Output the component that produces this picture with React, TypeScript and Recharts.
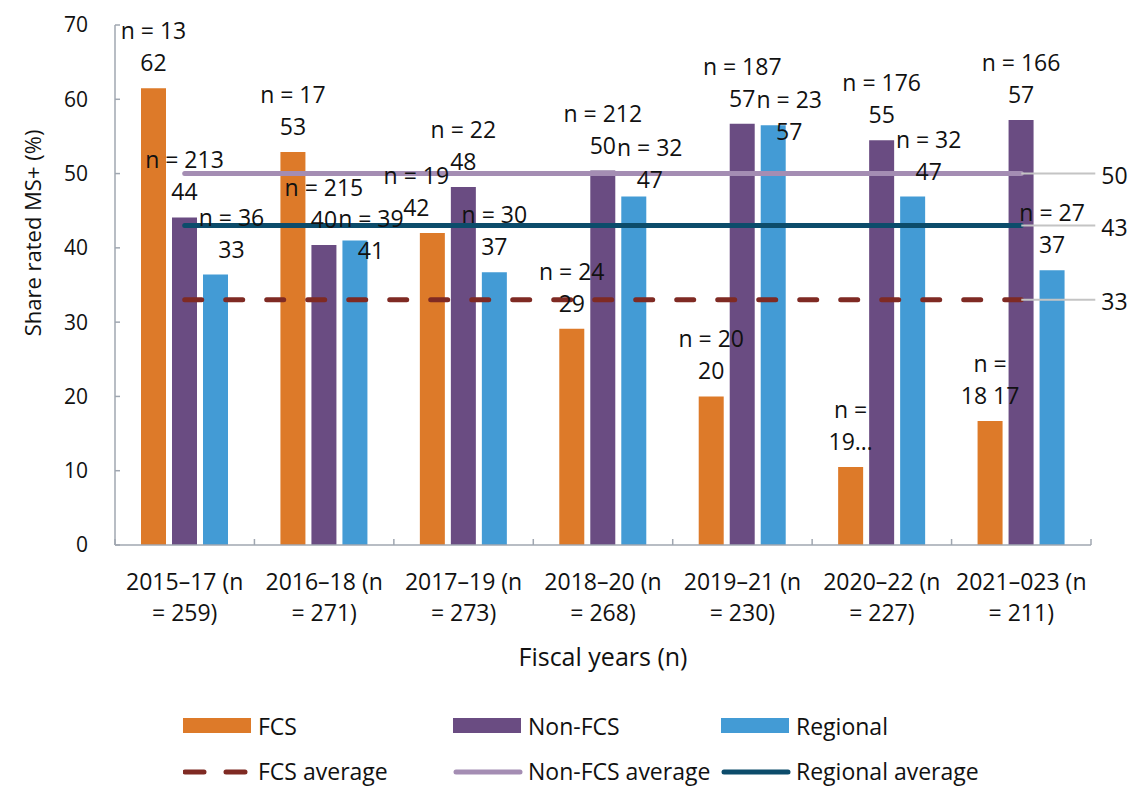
import React from "react";
import { ComposedChart, Bar, Line, XAxis, YAxis, Legend, LabelList } from "recharts";

const categories = [
  "2015–17 (n = 259)",
  "2016–18 (n = 271)",
  "2017–19 (n = 273)",
  "2018–20 (n = 268)",
  "2019–21 (n = 230)",
  "2020–22 (n = 227)",
  "2021–023 (n = 211)",
];
const fcs = [61.5, 52.9, 42.0, 29.1, 20.0, 10.5, 16.7];
const nonFcs = [44.1, 40.4, 48.2, 50.4, 56.7, 54.5, 57.2];
const regional = [36.4, 41.0, 36.7, 46.9, 56.5, 46.9, 37.0];
const fcsAvg = [33, 33, 33, 33, 33, 33, 33];
const nonFcsAvg = [50, 50, 50, 50, 50, 50, 50];
const regionalAvg = [43, 43, 43, 43, 43, 43, 43];

const fcsTop = ["n = 13", "n = 17", "n = 19", "n = 24", "n = 20", "n =", "n ="];
const fcsBottom = ["62", "53", "42", "29", "20", "19…", "18 17"];
const nonFcsTop = ["n = 213", "n = 215", "n = 22", "n = 212", "n = 187", "n = 176", "n = 166"];
const nonFcsBottom = ["44", "40", "48", "50", "57", "55", "57"];
const regionalTop = ["n = 36", "n = 39", "n = 30", "n = 32", "n = 23", "n = 32", "n = 27"];
const regionalBottom = ["33", "41", "37", "47", "57", "47", "37"];
const yTicks = [0, 10, 20, 30, 40, 50, 60, 70];

const data = categories.map((name, i) => ({
  name,
  fcs: fcs[i],
  nonFcs: nonFcs[i],
  regional: regional[i],
  fcsAvg: fcsAvg[i],
  nonFcsAvg: nonFcsAvg[i],
  regionalAvg: regionalAvg[i],
}));

const FONT = "'Open Sans', 'Noto Sans', sans-serif";
const ORANGE = "#dd7a29";
const PURPLE = "#6a4c82";
const BLUE = "#439bd5";
const DARKRED = "#7f2a23";
const LILAC = "#a48db3";
const TEAL = "#0c4c6b";
const AXIS = "#a0a7b1";
const LABEL_FS = 23;
const BAR_SIZE = 25;
const BAR_GAP = 6;

// label sets, in series order (FCS, Non-FCS, Regional)
const series = [
  { values: fcs, top: fcsTop, bottom: fcsBottom },
  { values: nonFcs, top: nonFcsTop, bottom: nonFcsBottom },
  { values: regional, top: regionalTop, bottom: regionalBottom },
];

type Box = { x0: number; x1: number; y0: number; y1: number };
const textWidth = (s: string) =>
  s.split("").reduce((w, ch) => w + (ch === " " ? 0.26 : ch === "…" ? 0.83 : 0.58), 0) * LABEL_FS;
const textBox = (s: string, cx: number, cy: number): Box => {
  const half = textWidth(s) / 2;
  return { x0: cx - half, x1: cx + half, y0: cy - 15.5, y1: cy + 15.5 };
};
const hits = (a: Box, b: Box) => a.x0 < b.x1 && b.x0 < a.x1 && a.y0 < b.y1 && b.y0 < a.y1;

// nudge a label sideways or down when it would sit on a neighbouring label
const labelShifts = (i: number, base: number, ppu: number) => {
  const placed: Box[] = [];
  const shifts = [
    { dx: 0, dy: 0 },
    { dx: 0, dy: 0 },
    { dx: 0, dy: 0 },
  ];
  for (const s of [1, 0, 2]) {
    const cx = (s - 1) * (BAR_SIZE + BAR_GAP);
    const top = base - series[s].values[i] * ppu;
    const side = s === 0 ? -16 : s === 2 ? 16 : 0;
    let found: { dx: number; dy: number; boxes: Box[] } | null = null;
    for (let dy = 0; dy < 140 && !found; dy += 4) {
      for (const dx of side ? [0, side] : [0]) {
        const boxes = [
          textBox(series[s].top[i], cx + dx, top - 58 + dy),
          textBox(series[s].bottom[i], cx + dx, top - 26 + dy),
        ];
        if (!boxes.some((b) => placed.some((p) => hits(b, p)))) {
          found = { dx, dy, boxes };
          break;
        }
      }
    }
    if (found) {
      placed.push(...found.boxes);
      shifts[s] = { dx: found.dx, dy: found.dy };
    }
  }
  return shifts;
};

const barLabel = (s: number) => (props: any) => {
  const { x, y, width, height, index, value } = props;
  const cx = Number(x) + Number(width) / 2;
  const ty = Number(y);
  const ppu = Number(height) / Number(value);
  const { dx, dy } = labelShifts(index, ty + Number(height), ppu)[s];
  return (
    <g>
      <text x={cx + dx} y={ty - 58 + dy} textAnchor="middle" dominantBaseline="central" fontFamily={FONT} fontSize={LABEL_FS} fill="#111">
        {series[s].top[index]}
      </text>
      <text x={cx + dx} y={ty - 26 + dy} textAnchor="middle" dominantBaseline="central" fontFamily={FONT} fontSize={LABEL_FS} fill="#111">
        {series[s].bottom[index]}
      </text>
    </g>
  );
};

const endLabel = (text: number[]) => (props: any) => {
  const { x, y, index } = props;
  if (index !== text.length - 1) return null;
  return (
    <g>
      <line x1={x} y1={y} x2={x + 74} y2={y} stroke="#c4c4c4" strokeWidth={2} />
      <text x={x + 80} y={y + 1} dominantBaseline="central" fontFamily={FONT} fontSize={LABEL_FS} fill="#111">
        {text[index]}
      </text>
    </g>
  );
};

const CategoryTick = (props: any) => {
  const { x, y, payload, width, visibleTicksCount, index } = props;
  const band = (width || 976) / (visibleTicksCount || categories.length);
  const label: string = payload.value;
  const cut = label.indexOf(" = ");
  const first = label.slice(0, cut);
  const second = label.slice(cut + 1);
  return (
    <g>
      <line x1={x - band / 2} x2={x - band / 2} y1={y} y2={y - 6} stroke={AXIS} strokeWidth={1.5} />
      {index === categories.length - 1 && (
        <line x1={x + band / 2} x2={x + band / 2} y1={y} y2={y - 6} stroke={AXIS} strokeWidth={1.5} />
      )}
      <text x={x} textAnchor="middle" fontFamily={FONT} fontSize={23} fill="#111">
        <tspan x={x} y={y + 45}>{first}</tspan>
        <tspan x={x} y={y + 76}>{second}</tspan>
      </text>
    </g>
  );
};

const legendItems = [
  { name: "FCS", kind: "bar", color: ORANGE, col: 0, row: 0 },
  { name: "Non-FCS", kind: "bar", color: PURPLE, col: 1, row: 0 },
  { name: "Regional", kind: "bar", color: BLUE, col: 2, row: 0 },
  { name: "FCS average", kind: "dash", color: DARKRED, col: 0, row: 1 },
  { name: "Non-FCS average", kind: "line", color: LILAC, col: 1, row: 1 },
  { name: "Regional average", kind: "line", color: TEAL, col: 2, row: 1 },
];
const legendCols = [183, 453, 721];

const renderLegend = () => (
  <div style={{ position: "relative", width: 1133, height: 86, fontFamily: FONT, fontSize: 23, color: "#111" }}>
    {legendItems.map((it) => {
      const left = legendCols[it.col];
      const cy = it.row === 0 ? 26 : 71;
      return (
        <div key={it.name}>
          <svg style={{ position: "absolute", left, top: cy - 10 }} width={70} height={20}>
            {it.kind === "bar" && <rect x={0} y={2} width={68} height={15} fill={it.color} />}
            {it.kind === "line" && (
              <line x1={3} x2={67} y1={11} y2={11} stroke={it.color} strokeWidth={5} strokeLinecap="round" />
            )}
            {it.kind === "dash" && (
              <line x1={2} x2={66} y1={11} y2={11} stroke={it.color} strokeWidth={5} strokeLinecap="round" strokeDasharray="19 22" />
            )}
          </svg>
          <span style={{ position: "absolute", left: left + 75, top: cy - 16, lineHeight: "32px", whiteSpace: "nowrap" }}>
            {it.name}
          </span>
        </div>
      );
    })}
  </div>
);

export default function App() {
  return (
    <div style={{ position: "absolute", left: 0, top: 0, width: 1133, height: 786, background: "#fff" }}>
      <ComposedChart
        width={1133}
        height={786}
        data={data}
        margin={{ top: 25, right: 42, bottom: 181, left: 0 }}
        barSize={BAR_SIZE}
        barGap={BAR_GAP}
      >
        <XAxis
          dataKey="name"
          height={60}
          stroke={AXIS}
          strokeWidth={1.5}
          tickLine={false}
          tickSize={0}
          tickMargin={0}
          interval={0}
          tick={<CategoryTick />}
          label={(p: any) => {
            const vb = p.viewBox || {};
            return (
              <text
                x={vb.x + vb.width / 2}
                y={vb.y + 111}
                textAnchor="middle"
                dominantBaseline="central"
                fontFamily={FONT}
                fontSize={25}
                fill="#111"
              >
                Fiscal years (n)
              </text>
            );
          }}
        />
        <YAxis
          width={115}
          domain={[0, 70]}
          ticks={yTicks}
          interval={0}
          stroke={AXIS}
          strokeWidth={1.5}
          tickSize={-5}
          tickMargin={32}
          tick={{ fontFamily: FONT, fontSize: 21, fill: "#111" }}
          label={(p: any) => {
            const vb = p.viewBox || {};
            const cx = 32;
            const cy = vb.y + vb.height * 0.4;
            return (
              <text
                x={cx}
                y={cy}
                transform={`rotate(-90 ${cx} ${cy})`}
                textAnchor="middle"
                dominantBaseline="central"
                fontFamily={FONT}
                fontSize={22}
                fill="#111"
              >
                Share rated MS+ (%)
              </text>
            );
          }}
        />
        <Bar dataKey="fcs" name="FCS" fill={ORANGE} isAnimationActive={false}>
          <LabelList dataKey="fcs" content={barLabel(0)} />
        </Bar>
        <Bar dataKey="nonFcs" name="Non-FCS" fill={PURPLE} isAnimationActive={false}>
          <LabelList dataKey="nonFcs" content={barLabel(1)} />
        </Bar>
        <Bar dataKey="regional" name="Regional" fill={BLUE} isAnimationActive={false}>
          <LabelList dataKey="regional" content={barLabel(2)} />
        </Bar>
        <Line
          dataKey="fcsAvg"
          name="FCS average"
          stroke={DARKRED}
          strokeWidth={5}
          strokeDasharray="17 24"
          strokeLinecap="round"
          dot={false}
          activeDot={false}
          isAnimationActive={false}
          label={endLabel(fcsAvg)}
        />
        <Line
          dataKey="nonFcsAvg"
          name="Non-FCS average"
          stroke={LILAC}
          strokeWidth={5}
          strokeLinecap="round"
          dot={false}
          activeDot={false}
          isAnimationActive={false}
          label={endLabel(nonFcsAvg)}
        />
        <Line
          dataKey="regionalAvg"
          name="Regional average"
          stroke={TEAL}
          strokeWidth={5}
          strokeLinecap="round"
          dot={false}
          activeDot={false}
          isAnimationActive={false}
          label={endLabel(regionalAvg)}
        />
        <Legend
          layout="horizontal"
          align="center"
          verticalAlign="middle"
          content={renderLegend}
          wrapperStyle={{ left: 0, top: 700, width: 1133, height: 86 }}
        />
      </ComposedChart>
    </div>
  );
}
